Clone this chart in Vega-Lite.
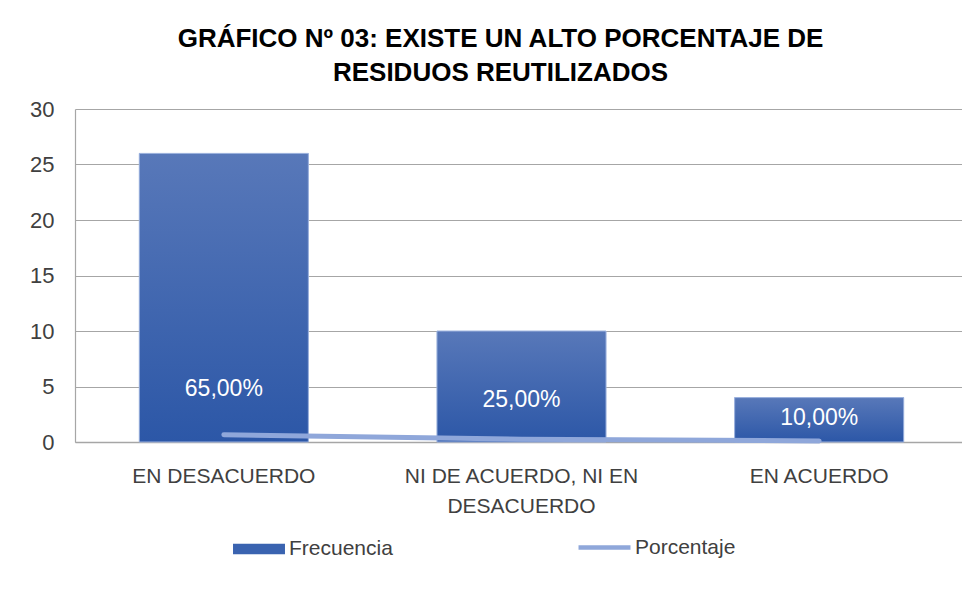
{
  "$schema": "https://vega.github.io/schema/vega-lite/v6.json",
  "width": 893,
  "height": 333,
  "autosize": {"type": "none"},
  "padding": {"left": 75, "top": 109, "right": 0, "bottom": 148},
  "background": "white",
  "config": {
    "locale": {"number": {"decimal": ",", "thousands": ".", "grouping": [3], "currency": ["", " €"]}},
    "view": {"stroke": null},
    "font": "Liberation Sans"
  },
  "title": {
    "text": ["GRÁFICO Nº 03:  EXISTE UN ALTO PORCENTAJE DE", "RESIDUOS REUTILIZADOS"],
    "fontSize": 26,
    "fontWeight": "bold",
    "font": "Liberation Sans",
    "color": "#000000",
    "anchor": "middle",
    "dx": -21,
    "lineHeight": 34,
    "offset": 12
  },
  "data": {
    "values": [
      {"categoria": "EN DESACUERDO", "frecuencia": 26, "porcentaje": 0.65},
      {"categoria": "NI DE ACUERDO, NI EN DESACUERDO", "frecuencia": 10, "porcentaje": 0.25},
      {"categoria": "EN ACUERDO", "frecuencia": 4, "porcentaje": 0.10}
    ]
  },
  "encoding": {
    "x": {
      "field": "categoria",
      "type": "nominal",
      "sort": null,
      "scale": {"paddingInner": 0.432, "paddingOuter": 0.216},
      "axis": {
        "title": null,
        "labelAngle": 0,
        "labelFontSize": 21,
        "labelColor": "#404040",
        "labelFont": "Liberation Sans",
        "labelPadding": 23,
        "labelLineHeight": 30,
        "labelBaseline": "top",
        "ticks": false,
        "domainColor": "#a6a6a6",
        "domainWidth": 1.5,
        "labelLimit": 400,
        "labelExpr": "datum.value == 'NI DE ACUERDO, NI EN DESACUERDO' ? ['NI DE ACUERDO, NI EN', 'DESACUERDO'] : datum.value"
      }
    }
  },
  "layer": [
    {
      "mark": {"type": "bar"},
      "encoding": {
        "y": {
          "field": "frecuencia",
          "type": "quantitative",
          "scale": {"domain": [0, 30], "nice": false},
          "axis": {
            "title": null,
            "values": [0, 5, 10, 15, 20, 25, 30],
            "labelFontSize": 22,
            "labelColor": "#404040",
            "labelFont": "Liberation Sans",
            "labelPadding": 21,
            "ticks": false,
            "grid": true,
            "gridColor": "#a6a6a6",
            "gridWidth": 1.2,
            "domain": true,
            "domainColor": "#a6a6a6",
            "domainWidth": 1.2
          }
        },
        "fill": {
          "datum": "Frecuencia",
          "type": "nominal",
          "scale": {"range": ["#3a63b0"]},
          "legend": {
            "title": null,
            "orient": "none",
            "legendX": 158,
            "legendY": 414,
            "symbolType": "M-1,-0.2H1V0.2H-1Z",
            "symbolSize": 2700,
            "symbolStrokeWidth": 0,
            "labelFontSize": 21,
            "labelColor": "#404040",
            "labelFont": "Liberation Sans",
            "labelOffset": 4,
            "padding": 0
          }
        }
      }
    },
    {
      "mark": {
        "type": "bar",
        "stroke": "#9fb4df",
        "strokeWidth": 1,
        "fill": {
          "gradient": "linear",
          "x1": 0, "y1": 0, "x2": 0, "y2": 1,
          "stops": [
            {"offset": 0, "color": "#5878b9"},
            {"offset": 1, "color": "#2c57a7"}
          ]
        }
      },
      "encoding": {"y": {"field": "frecuencia", "type": "quantitative"}}
    },
    {
      "mark": {"type": "line", "strokeWidth": 5, "strokeCap": "round"},
      "encoding": {
        "y": {"field": "porcentaje", "type": "quantitative"},
        "stroke": {
          "datum": "Porcentaje",
          "type": "nominal",
          "scale": {"range": ["#8fa7da"]},
          "legend": {
            "title": null,
            "orient": "none",
            "legendX": 501,
            "legendY": 410,
            "symbolType": "stroke",
            "symbolSize": 2700,
            "symbolStrokeWidth": 4.5,
            "labelFontSize": 21,
            "labelColor": "#404040",
            "labelFont": "Liberation Sans",
            "labelOffset": 2,
            "padding": 0
          }
        }
      }
    },
    {
      "transform": [{"filter": "datum.porcentaje == 0.65"}],
      "mark": {"type": "text", "fontSize": 23, "color": "#ffffff", "font": "Liberation Sans", "dy": -46},
      "encoding": {
        "y": {"field": "porcentaje", "type": "quantitative"},
        "text": {"field": "porcentaje", "type": "quantitative", "format": ".2%"}
      }
    },
    {
      "transform": [{"filter": "datum.porcentaje == 0.25"}],
      "mark": {"type": "text", "fontSize": 23, "color": "#ffffff", "font": "Liberation Sans", "dy": -39},
      "encoding": {
        "y": {"field": "porcentaje", "type": "quantitative"},
        "text": {"field": "porcentaje", "type": "quantitative", "format": ".2%"}
      }
    },
    {
      "transform": [{"filter": "datum.porcentaje == 0.1"}],
      "mark": {"type": "text", "fontSize": 23, "color": "#ffffff", "font": "Liberation Sans", "dy": -23},
      "encoding": {
        "y": {"field": "porcentaje", "type": "quantitative"},
        "text": {"field": "porcentaje", "type": "quantitative", "format": ".2%"}
      }
    }
  ]
}
